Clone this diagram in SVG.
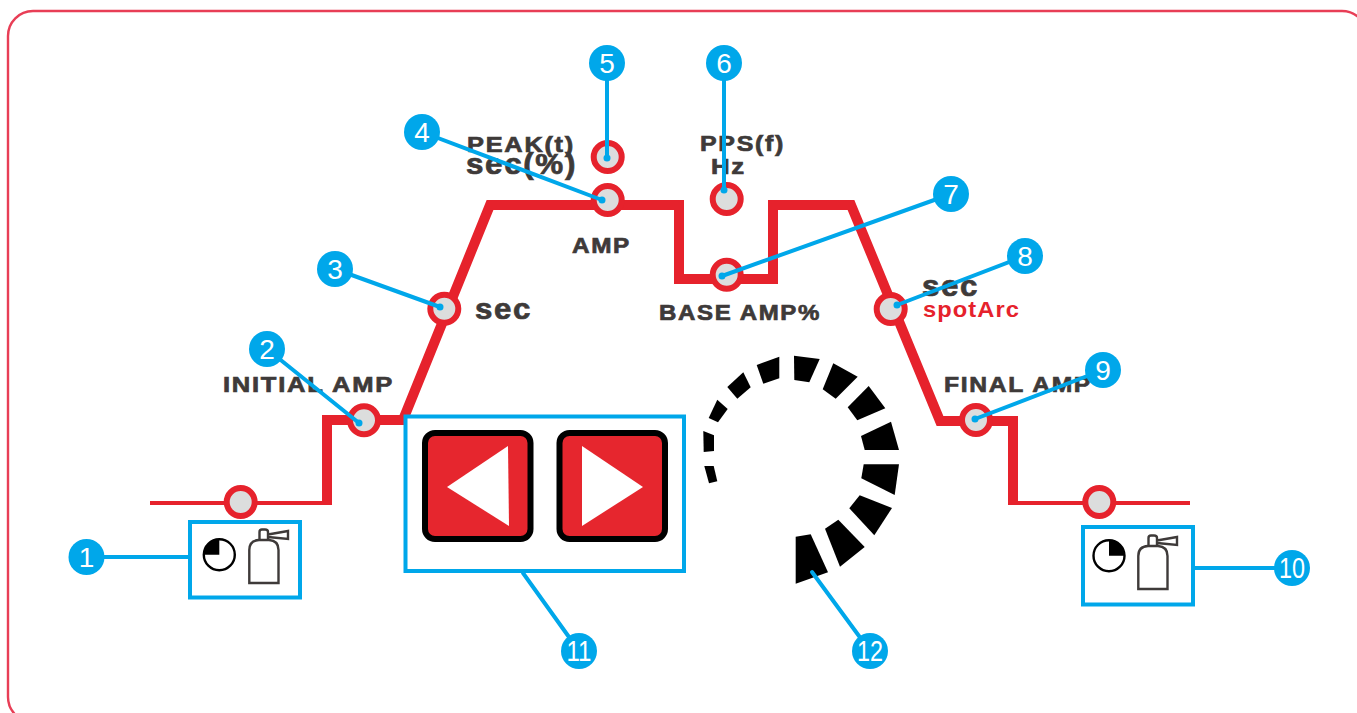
<svg xmlns="http://www.w3.org/2000/svg" xmlns:xlink="http://www.w3.org/1999/xlink" width="1357" height="713" viewBox="0 0 1357 713">
<style>
.lbl{font-family:"Liberation Sans",Arial,sans-serif;font-weight:bold;fill:#3e3a39;stroke:#3e3a39;stroke-width:.7;font-size:22px;letter-spacing:1.5px}
.big{font-size:29px}
.red{fill:#e6222c;stroke:none;font-size:22px;letter-spacing:1px}
.num{font-family:"Liberation Sans",Arial,sans-serif;fill:#fff;font-size:28px;text-anchor:middle}
.num2{font-size:29px}
.knob{fill:#dcdddd;stroke:#e6222c;stroke-width:6}
.badge{fill:#00a7ea}
.cn{fill:none;stroke:#00a7ea;stroke-width:4;stroke-linecap:round}
.dot{fill:#00a7ea}
.bx{fill:#fff;stroke:#00a7ea;stroke-width:4}
.btn{fill:#e6262e;stroke:#000;stroke-width:6}
.curve{fill:none;stroke:#e6222c;stroke-width:10;stroke-linejoin:miter}
.thin{fill:none;stroke:#e6222c;stroke-width:4}
.ic{fill:none;stroke:#3e3a39;stroke-width:2.400}
</style>
<defs>
<g id="bottle">
<path class="ic" d="M249.300 583V550Q249.300 540.500 259 540H269Q278.500 540.500 278.500 550V583Z"/>
<path class="ic" d="M259.500 540V532Q259.500 529.500 262 529.500H265Q268 529.500 268 532V540M268 534.500L288 531V539L268 537"/>
</g>
</defs>
<rect x="8" y="11" width="1359" height="711" rx="25" fill="#fff" stroke="#e83e56" stroke-width="2.400"/>

<g id="curve">
<path class="thin" d="M150 503H327"/>
<path class="curve" d="M327 505V420H403L490 205H679V279H773V205H851L940 421H1013V505"/>
<path class="thin" d="M1010 503H1190"/>
</g>

<g id="labels">
<text class="lbl" x="223" y="392" textLength="171" lengthAdjust="spacingAndGlyphs">INITIAL AMP</text>
<text class="lbl" x="467" y="152" textLength="108" lengthAdjust="spacingAndGlyphs">PEAK(t)</text>
<text class="lbl big" x="466" y="174" textLength="111" lengthAdjust="spacingAndGlyphs">sec(%)</text>
<text class="lbl" x="700" y="151" textLength="85" lengthAdjust="spacingAndGlyphs">PPS(f)</text>
<text class="lbl" x="711" y="174" textLength="35" lengthAdjust="spacingAndGlyphs">Hz</text>
<text class="lbl" x="572" y="253" textLength="59" lengthAdjust="spacingAndGlyphs">AMP</text>
<text class="lbl big" x="475" y="319" textLength="57" lengthAdjust="spacingAndGlyphs">sec</text>
<text class="lbl" x="659" y="320" textLength="162" lengthAdjust="spacingAndGlyphs">BASE AMP%</text>
<text class="lbl big" x="922" y="296" textLength="57" lengthAdjust="spacingAndGlyphs">sec</text>
<text class="lbl red" x="923" y="317" textLength="97" lengthAdjust="spacingAndGlyphs">spotArc</text>
<text class="lbl" x="944" y="392" textLength="148" lengthAdjust="spacingAndGlyphs">FINAL AMP</text>
</g>

<g id="node-start"><circle class="knob" cx="240.700" cy="502" r="14"/></g>
<g id="node-initial"><circle class="knob" cx="364" cy="420.300" r="14"/></g>
<g id="node-upslope"><circle class="knob" cx="444.300" cy="308.700" r="14"/></g>
<g id="node-peak"><circle class="knob" cx="607.700" cy="157" r="14"/></g>
<g id="node-amp"><circle class="knob" cx="607.700" cy="200" r="14"/></g>
<g id="node-pps"><circle class="knob" cx="726.700" cy="199" r="14"/></g>
<g id="node-base"><circle class="knob" cx="726.700" cy="274.700" r="14"/></g>
<g id="node-downslope"><circle class="knob" cx="890.700" cy="309" r="14"/></g>
<g id="node-final"><circle class="knob" cx="976" cy="420" r="14"/></g>
<g id="node-end"><circle class="knob" cx="1099.300" cy="502" r="14"/></g>

<g id="box-pre">
<rect class="bx" x="190" y="522" width="110" height="75.500"/>
<circle cx="219.300" cy="554.700" r="15.500" fill="#fff" stroke="#000" stroke-width="2.400"/>
<path d="M219.300 554.700V539.200A15.500 15.500 0 0 0 203.800 554.700Z" fill="#000"/>
<use xlink:href="#bottle" href="#bottle"/>
</g>
<g id="box-post">
<rect class="bx" x="1083" y="527" width="110" height="77.500"/>
<circle cx="1109" cy="555.700" r="15.500" fill="#fff" stroke="#000" stroke-width="2.400"/>
<path d="M1109 555.700V540.200A15.500 15.500 0 0 1 1124.500 555.700Z" fill="#000"/>
<use xlink:href="#bottle" href="#bottle" transform="translate(889 6)"/>
</g>
<g id="box-buttons">
<rect class="bx" x="405.500" y="416.500" width="278.500" height="154.500"/>
<rect class="btn" x="425" y="433" width="105.500" height="106" rx="10"/>
<path d="M447 487L508 446L509 526Z" fill="#fff"/>
<rect class="btn" x="559.500" y="433" width="105.500" height="106" rx="10"/>
<path d="M582 446L643 487L582 526Z" fill="#fff"/>
</g>
<g id="dial" fill="#000">
<path d="M795.700 536.700L810.700 534.300L828 572.300L795.700 583.700Z"/>
<path d="M825 528.700L838.300 519.700L864.700 547L840 566.700Z"/>
<path d="M849.300 508.300L859.700 495.300L892 508L874.300 535.300Z"/>
<path d="M861.300 478.300L863.700 464.300L899 464.300L894.700 495Z"/>
<path d="M861 436L891 421.700L899 450L864.700 450Z"/>
<path d="M847.700 407.300L868.700 386L885.300 408.300L857.300 420.300Z"/>
<path d="M822.700 389.300L833.300 363.300L857.700 376.700L835.700 398.700Z"/>
<path d="M794 355.700L819.700 359L809.300 382.300L794.300 380Z"/>
<path d="M756.700 365L779.300 356.700L779.300 378.300L763.300 383.700Z"/>
<path d="M727.300 387L743.300 372.300L750.700 387.300L737.300 398.700Z"/>
<path d="M708.700 418L717.300 399.700L727.700 409L718 422.300Z"/>
<path d="M703.300 431L714 435.300L714 451L703.700 452Z"/>
<path d="M704.300 466L713.700 466L717.300 481.300L709 483.300Z"/>
</g>

<g id="connectors">
<path class="cn" d="M87 557H190"/>
<path class="cn" d="M267 349L359 423"/>
<path class="cn" d="M335 269L440 307"/>
<path class="cn" d="M422 132L602 200"/>
<path class="cn" d="M607 63V158"/>
<path class="cn" d="M724 63V190"/>
<path class="cn" d="M951 194L722 276"/>
<path class="cn" d="M1025 256L897 305"/>
<path class="cn" d="M1103 370L975 419"/>
<path class="cn" d="M1195 568H1292"/>
<path class="cn" d="M523 573L579 651"/>
<path class="cn" d="M812 572L870 651"/>
<circle class="dot" cx="359" cy="423" r="3.500"/>
<circle class="dot" cx="440" cy="307" r="3.500"/>
<circle class="dot" cx="602" cy="200" r="3.500"/>
<circle class="dot" cx="607" cy="158" r="3.500"/>
<circle class="dot" cx="724" cy="190" r="3.500"/>
<circle class="dot" cx="722" cy="276" r="3.500"/>
<circle class="dot" cx="897" cy="305" r="3.500"/>
<circle class="dot" cx="975" cy="419" r="3.500"/>
</g>

<g id="badge-1"><circle class="badge" cx="86.500" cy="557" r="18"/><text class="num" x="86.500" y="567">1</text></g>
<g id="badge-2"><circle class="badge" cx="267" cy="349" r="18"/><text class="num" x="267" y="359">2</text></g>
<g id="badge-3"><circle class="badge" cx="335" cy="269" r="18"/><text class="num" x="335" y="279">3</text></g>
<g id="badge-4"><circle class="badge" cx="422" cy="132" r="18"/><text class="num" x="422" y="142">4</text></g>
<g id="badge-5"><circle class="badge" cx="607" cy="63" r="18"/><text class="num" x="607" y="73">5</text></g>
<g id="badge-6"><circle class="badge" cx="724" cy="63" r="18"/><text class="num" x="724" y="73">6</text></g>
<g id="badge-7"><circle class="badge" cx="951" cy="194" r="18"/><text class="num" x="951" y="204">7</text></g>
<g id="badge-8"><circle class="badge" cx="1025" cy="256" r="18"/><text class="num" x="1025" y="266">8</text></g>
<g id="badge-9"><circle class="badge" cx="1103" cy="370" r="18"/><text class="num" x="1103" y="380">9</text></g>
<g id="badge-10"><circle class="badge" cx="1292" cy="568" r="18"/><text class="num num2" x="1292" y="578" textLength="26" lengthAdjust="spacingAndGlyphs">10</text></g>
<g id="badge-11"><circle class="badge" cx="579" cy="651" r="18"/><text class="num num2" x="579" y="661" textLength="25" lengthAdjust="spacingAndGlyphs">11</text></g>
<g id="badge-12"><circle class="badge" cx="870" cy="651" r="18"/><text class="num num2" x="870" y="661" textLength="26" lengthAdjust="spacingAndGlyphs">12</text></g>
</svg>
